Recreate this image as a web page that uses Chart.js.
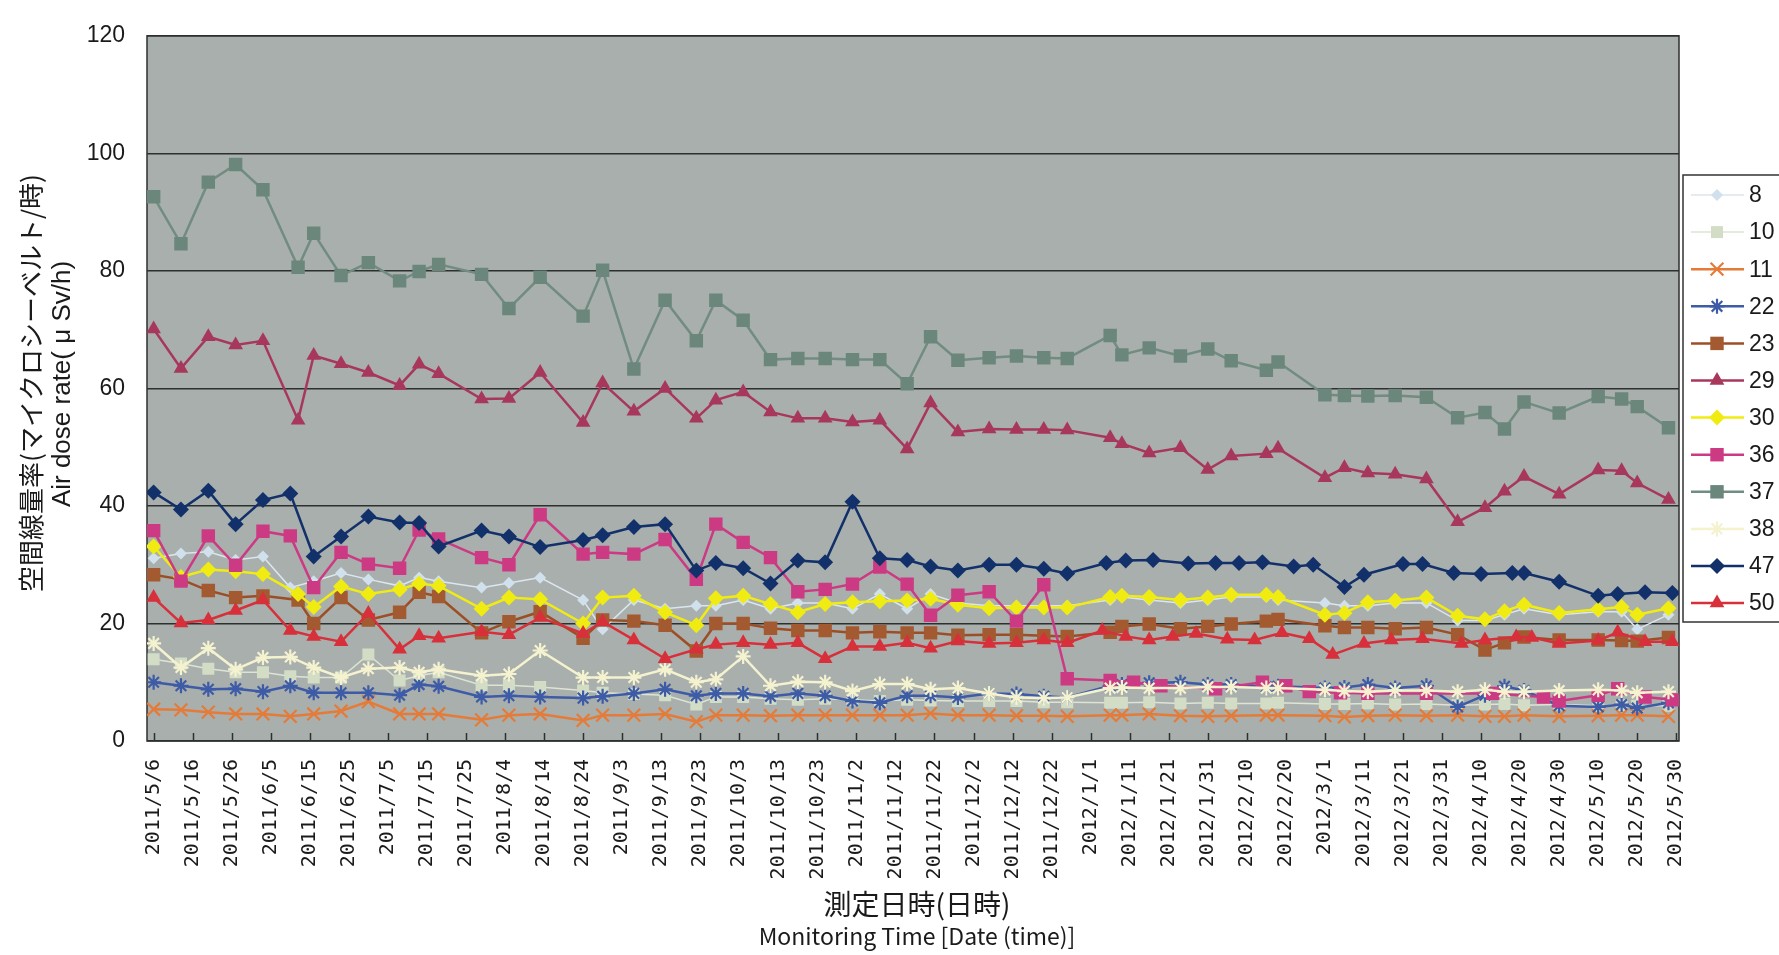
<!DOCTYPE html>
<html>
<head>
<meta charset="utf-8">
<script src="https://cdn.jsdelivr.net/npm/chart.js@4.4.1/dist/chart.umd.min.js"></script>
<style>
  html, body { margin: 0; padding: 0; background: #fff; }
  canvas { display: block; }
</style>
</head>
<body>
<canvas id="c" width="1779" height="955"></canvas>
<script>
// 測定日は 2011/5/6 からの経過日数
const tickLabels = ['2011/5/6','2011/5/16','2011/5/26','2011/6/5','2011/6/15','2011/6/25','2011/7/5','2011/7/15',
  '2011/7/25','2011/8/4','2011/8/14','2011/8/24','2011/9/3','2011/9/13','2011/9/23','2011/10/3','2011/10/13',
  '2011/10/23','2011/11/2','2011/11/12','2011/11/22','2011/12/2','2011/12/12','2011/12/22','2012/1/1','2012/1/11',
  '2012/1/21','2012/1/31','2012/2/10','2012/2/20','2012/3/1','2012/3/11','2012/3/21','2012/3/31','2012/4/10',
  '2012/4/20','2012/4/30','2012/5/10','2012/5/20','2012/5/30'];

const seriesNames = ['8','10','11','22','23','29','30','36','37','38','47','50'];

// 測定日 (グループごと)
const daysA = [0,7,14,21,28,35,41,48,55,63,68,73,84,91,99,110,115,123,131,139,144,151,158,165,172,179,186,193,199,206,
  214,221,228,234,244,249,256,265,272,278,284,292,297,305,310,320,325,333,340,348,351,360,370,375,382,389];
const daysB = [0,7,14,21,28,37,41,48,55,63,68,73,84,91,99,110,115,123,131,139,144,151,158,165,172,179,186,193,199,206,
  214,221,228,234,245,248,255,263,270,276,285,288,300,305,311,318,326,334,341,346,351,360,370,376,380,388];
const daysC = [0,7,14,21,28,35,41,48,55,63,68,73,84,91,99,110,115,123,131,139,144,151,158,165,172,179,186,193,199,206,
  214,221,228,234,245,248,255,263,270,276,285,288,300,305,311,318,326,334,341,346,351,360,370,376,380,388];
const days36 = [0,7,14,21,28,35,41,48,55,63,68,73,84,91,99,110,115,123,131,139,144,151,158,165,172,179,186,193,199,206,
  214,221,228,234,245,251,258,272,284,290,296,304,311,326,343,356,360,370,375,382,389];
const days50 = [0,7,14,21,28,35,41,48,55,63,68,73,84,91,99,110,115,123,131,139,144,151,158,165,172,179,186,193,199,206,
  214,221,228,234,243,249,255,261,267,275,282,289,296,302,310,317,325,335,341,349,353,360,370,375,382,389];

// 空間線量率 (μSv/h)
const vals8 = [31.1,31.9,32.2,30.8,31.4,26.1,27.2,28.6,27.5,26.4,27.8,27.2,26.1,26.9,27.8,
  24.0,19.0,24.0,22.5,23.0,23.0,24.0,22.5,23.5,23.5,22.5,25.0,22.5,25.0,23.5,
  23.0,23.0,23.0,23.0,24.0,24.5,24.0,23.5,24.0,24.5,24.5,24.0,23.5,23.0,23.0,23.5,23.5,20.5,20.5,21.5,22.5,21.5,22.0,22.0,19.0,21.5];
const vals10 = [13.9,13.2,12.3,11.7,11.7,11.0,10.8,10.8,14.7,10.3,11.1,11.7,9.5,9.5,9.2,
  8.6,8.2,8.0,7.8,6.2,7.5,7.5,7.2,7.0,7.2,7.0,6.8,7.0,6.9,6.8,
  6.8,6.8,6.6,6.6,6.5,6.5,6.6,6.4,6.5,6.4,6.4,6.5,6.3,6.3,6.4,6.2,6.3,6.1,6.2,6.3,6.1,6.2,6.0,6.1,6.0,6.0];
const vals11 = [5.4,5.3,4.9,4.6,4.6,4.2,4.6,5.1,6.7,4.6,4.6,4.6,3.6,4.4,4.6,
  3.5,4.4,4.4,4.6,3.3,4.4,4.4,4.3,4.4,4.4,4.4,4.4,4.4,4.7,4.4,
  4.4,4.3,4.3,4.2,4.4,4.4,4.6,4.3,4.2,4.3,4.4,4.4,4.3,4.1,4.3,4.4,4.3,4.4,4.2,4.2,4.4,4.2,4.3,4.4,4.4,4.2];
const vals22 = [10.0,9.4,8.8,8.9,8.4,9.4,8.2,8.2,8.2,7.8,9.6,9.3,7.5,7.7,7.5,
  7.3,7.6,8.1,8.8,7.7,8.1,8.1,7.6,8.1,7.7,6.8,6.5,7.7,7.7,7.4,
  8.1,8.0,7.6,7.4,9.4,9.6,9.9,10.0,9.6,9.6,9.2,9.3,9.0,9.1,9.6,9.0,9.4,5.8,7.8,9.3,8.6,6.0,5.8,6.2,5.6,6.5];
const vals23 = [28.3,27.5,25.6,24.4,24.7,24.0,20.0,24.4,20.6,21.9,25.3,24.6,18.4,20.3,22.0,
  17.5,20.6,20.4,19.7,15.3,20.0,20.0,19.2,18.8,18.8,18.4,18.6,18.4,18.4,18.0,
  18.1,18.1,17.9,17.8,18.5,19.5,19.9,19.1,19.5,19.9,20.4,20.7,19.6,19.3,19.3,19.1,19.3,18.1,15.5,16.7,17.7,17.2,17.2,17.1,17.0,17.6];
const vals29 = [70.1,63.4,68.8,67.4,68.1,54.6,65.6,64.2,62.7,60.5,64.1,62.5,58.2,58.3,62.7,
  54.2,60.9,56.1,60.0,54.9,58.0,59.4,56.0,54.9,54.9,54.3,54.6,49.7,57.5,52.6,
  53.1,53.0,53.0,52.9,51.6,50.6,49.0,49.9,46.2,48.5,48.9,49.8,44.8,46.5,45.6,45.4,44.6,37.3,39.7,42.5,45.0,42.0,46.1,46.0,43.9,41.1];
const vals30 = [33.1,27.9,29.2,28.9,28.4,25.0,22.8,26.3,25.0,25.8,26.8,26.4,22.5,24.4,24.1,
  20.0,24.4,24.7,21.9,19.7,24.3,24.7,23.3,21.9,23.3,23.6,23.8,23.9,24.2,23.2,
  22.6,22.7,22.7,22.7,24.5,24.7,24.5,24.0,24.4,24.9,24.9,24.5,21.5,21.8,23.6,23.9,24.4,21.3,20.7,22.1,23.2,21.8,22.4,22.8,21.5,22.6];
const vals36 = [35.8,27.2,34.9,29.9,35.7,34.9,26.1,32.1,30.1,29.4,35.9,34.4,31.2,30.0,38.5,
  31.8,32.1,31.8,34.3,27.5,36.9,33.8,31.2,25.4,25.8,26.7,29.6,26.7,21.4,24.8,
  25.4,20.4,26.6,10.6,10.3,10.0,9.4,8.9,10.0,9.4,8.4,8.2,8.1,8.1,8.1,7.5,6.8,7.8,8.9,7.5,7.0];
const vals37 = [92.6,84.6,95.1,98.1,93.8,80.6,86.4,79.2,81.4,78.3,79.9,81.1,79.4,73.6,78.9,
  72.3,80.1,63.3,75.0,68.1,75.0,71.6,64.9,65.1,65.1,64.9,64.9,60.8,68.8,64.8,
  65.2,65.5,65.2,65.1,69.0,65.7,66.9,65.5,66.7,64.7,63.1,64.5,58.9,58.8,58.7,58.8,58.5,55.0,55.9,53.1,57.7,55.8,58.6,58.2,56.9,53.3];
const vals38 = [16.6,12.5,15.8,12.2,14.2,14.3,12.5,10.8,12.3,12.5,11.7,12.2,11.1,11.4,15.4,
  10.8,10.8,10.8,12.2,10.0,10.5,14.4,9.4,10.1,10.0,8.5,9.7,9.7,8.8,9.0,
  8.1,7.4,7.3,7.4,9.0,9.1,9.0,9.0,9.2,9.2,9.0,9.0,8.7,8.5,8.4,8.6,8.6,8.4,8.7,8.4,8.4,8.6,8.7,8.6,8.2,8.4];
const vals47 = [42.3,39.4,42.6,36.9,41.0,42.1,31.4,34.8,38.2,37.2,37.1,33.1,35.8,34.8,33.0,
  34.2,35.0,36.4,36.9,29.0,30.3,29.4,26.8,30.7,30.4,40.7,31.1,30.8,29.7,29.0,
  30.0,30.0,29.3,28.5,30.3,30.7,30.8,30.2,30.3,30.3,30.4,29.7,30.0,26.2,28.3,30.1,30.1,28.6,28.4,28.6,28.6,27.1,24.7,25.0,25.3,25.2];
const vals50 = [24.4,20.1,20.6,22.2,24.0,18.8,17.8,16.9,21.7,15.6,17.9,17.5,18.6,18.1,21.0,
  18.3,20.3,17.2,14.0,15.6,16.4,16.7,16.4,16.7,14.0,16.1,16.1,16.7,15.8,17.0,
  16.6,16.7,17.2,16.7,18.8,17.8,17.2,17.8,18.3,17.3,17.2,18.4,17.4,14.7,16.6,17.2,17.4,16.6,17.2,17.7,17.6,16.6,17.1,18.5,16.9,16.9];

const START = Date.UTC(2011, 4, 6);
function dayOf(label) {
  const [y, m, d] = label.split('/').map(Number);
  return (Date.UTC(y, m - 1, d) - START) / 864e5;
}
const tickDays = tickLabels.map(dayOf);

// 系列ごとの見た目
const looks = {
  '8':  { days: daysC, vals: vals8,  line: '#dbe6ee', point: '#d0e0ec', style: 'rectRot', r: 6, lw: 1.5 },
  '10': { days: daysC, vals: vals10, line: '#dde4d4', point: '#d3ddc6', style: 'rect', r: 8.5, lw: 1.5 },
  '11': { days: daysC, vals: vals11, line: '#e57b38', point: '#e57b38', style: 'crossRot', r: 9, lw: 2.5 },
  '22': { days: daysC, vals: vals22, line: '#3d5ba6', point: '#3d5ba6', style: 'star', r: 7.5, lw: 2.5 },
  '23': { days: daysB, vals: vals23, line: '#9c4f26', point: '#a35a30', style: 'rect', r: 9.5, lw: 2.5 },
  '29': { days: daysB, vals: vals29, line: '#a8375c', point: '#a8375c', style: 'triangle', r: 8.5, lw: 2.5 },
  '30': { days: daysB, vals: vals30, line: '#f0ec12', point: '#f0ec12', style: 'rectRot', r: 8, lw: 2.5 },
  '36': { days: days36, vals: vals36, line: '#cc3a84', point: '#cc3a84', style: 'rect', r: 9.5, lw: 2.5 },
  '37': { days: daysB, vals: vals37, line: '#718c81', point: '#6b877b', style: 'rect', r: 9.5, lw: 2.5 },
  '38': { days: daysC, vals: vals38, line: '#f4f2cf', point: '#f4f2cf', style: 'star', r: 7.5, lw: 2.5 },
  '47': { days: daysA, vals: vals47, line: '#12306a', point: '#12306a', style: 'rectRot', r: 8, lw: 2.5 },
  '50': { days: days50, vals: vals50, line: '#d7303a', point: '#d7303a', style: 'triangle', r: 8.5, lw: 2.5 }
};

const datasets = seriesNames.map((name, i) => {
  const s = looks[name];
  const stroked = s.style === 'star' || s.style === 'crossRot';
  return {
    label: name,
    data: s.days.map((d, k) => ({ x: d, y: s.vals[k] })),
    borderColor: s.line,
    borderWidth: s.lw,
    backgroundColor: s.point,
    pointStyle: s.style,
    pointRadius: s.r,
    pointBackgroundColor: s.point,
    pointBorderColor: s.point,
    pointBorderWidth: stroked ? 2.2 : 0,
    tension: 0,
    fill: false,
    order: seriesNames.length - i   // 後の系列ほど手前
  };
});

const PLOT_BG = '#a9afac';
const GRID = '#2c302e';

const framePlugin = {
  id: 'frame',
  beforeDraw(chart) {
    const { ctx, chartArea: a } = chart;
    ctx.save();
    ctx.fillStyle = PLOT_BG;
    ctx.fillRect(a.left, a.top, a.right - a.left, a.bottom - a.top);
    ctx.restore();
  },
  beforeDatasetsDraw(chart) {
    const { ctx, chartArea: a } = chart;
    const xs = chart.scales.x;
    ctx.save();
    ctx.strokeStyle = GRID;
    ctx.lineWidth = 1.5;
    ctx.strokeRect(a.left, a.top, a.right - a.left, a.bottom - a.top);
    // 内向きの目盛り
    ctx.beginPath();
    tickDays.forEach(d => {
      const x = Math.round(xs.getPixelForValue(d)) + 0.5;
      ctx.moveTo(x, a.bottom);
      ctx.lineTo(x, a.bottom - 8);
    });
    ctx.stroke();
    ctx.restore();
  },
  afterDraw(chart) {
    const ctx = chart.ctx;
    ctx.save();

    // 凡例
    const boxL = 1683, boxT = 175, boxB = 622;
    ctx.fillStyle = '#fff';
    ctx.fillRect(boxL, boxT, 1779 - boxL + 10, boxB - boxT);
    ctx.strokeStyle = '#333';
    ctx.lineWidth = 1.5;
    ctx.strokeRect(boxL, boxT, 1779 - boxL + 10, boxB - boxT);
    ctx.font = '23px "Liberation Sans", Arial, sans-serif';
    ctx.textBaseline = 'middle';
    ctx.textAlign = 'left';
    seriesNames.forEach((name, i) => {
      const s = looks[name];
      const y = 195 + i * 37.1;
      ctx.strokeStyle = s.line;
      ctx.lineWidth = s.lw;
      ctx.beginPath();
      ctx.moveTo(1691, y);
      ctx.lineTo(1744, y);
      ctx.stroke();
      const stroked = s.style === 'star' || s.style === 'crossRot';
      ctx.fillStyle = s.point;
      ctx.strokeStyle = s.point;
      ctx.lineWidth = stroked ? 2.2 : 0;
      Chart.helpers.drawPoint(ctx, { pointStyle: s.style, radius: s.r, rotation: 0, borderWidth: stroked ? 2.2 : 0 }, 1717, y);
      ctx.fillStyle = '#1a1a1a';
      ctx.fillText(name, 1749, y + 1);
    });

    // 軸タイトル
    ctx.fillStyle = '#1a1a1a';
    ctx.textAlign = 'center';
    ctx.textBaseline = 'middle';
    ctx.font = '28px "Noto Sans CJK JP", sans-serif';
    ctx.fillText('測定日時(日時)', 917, 904);
    ctx.font = '23px "Noto Sans CJK JP", sans-serif';
    ctx.fillText('Monitoring Time [Date (time)]', 917, 936);

    ctx.save();
    ctx.translate(31, 383);
    ctx.rotate(-Math.PI / 2);
    ctx.font = '26px "Noto Sans CJK JP", sans-serif';
    ctx.fillText('空間線量率(マイクロシーベルト/時)', 0, 0);
    ctx.restore();

    ctx.save();
    ctx.translate(63, 384);
    ctx.rotate(-Math.PI / 2);
    ctx.font = '26px "Liberation Sans", Arial, sans-serif';
    ctx.fillText('Air dose rate( μ Sv/h)', 0, 0);
    ctx.restore();

    ctx.restore();
  }
};

new Chart(document.getElementById('c'), {
  type: 'line',
  data: { datasets },
  plugins: [framePlugin],
  options: {
    responsive: false,
    animation: false,
    devicePixelRatio: 1,
    layout: { padding: { left: 87, top: 17, right: 100, bottom: 0 } },
    plugins: {
      legend: { display: false },
      tooltip: { enabled: false }
    },
    scales: {
      x: {
        type: 'linear',
        min: -1.7,
        max: 390.7,
        afterBuildTicks: axis => { axis.ticks = tickDays.map(v => ({ value: v })); },
        afterFit: axis => { axis.height = 214; },
        grid: { display: false },
        border: { display: false },
        ticks: {
          autoSkip: false,
          minRotation: 90,
          maxRotation: 90,
          padding: 10,
          color: '#1a1a1a',
          font: { family: '"DejaVu Sans Mono", monospace', size: 20 },
          callback: (v, i) => tickLabels[i]
        }
      },
      y: {
        min: 0,
        max: 120,
        afterFit: axis => { axis.width = 60; },
        grid: { color: GRID, lineWidth: 1.5, drawTicks: false },
        border: { display: false },
        ticks: {
          stepSize: 20,
          padding: 22,
          color: '#1a1a1a',
          font: { family: '"Liberation Sans", Arial, sans-serif', size: 23 }
        }
      }
    }
  }
});
</script>
</body>
</html>
